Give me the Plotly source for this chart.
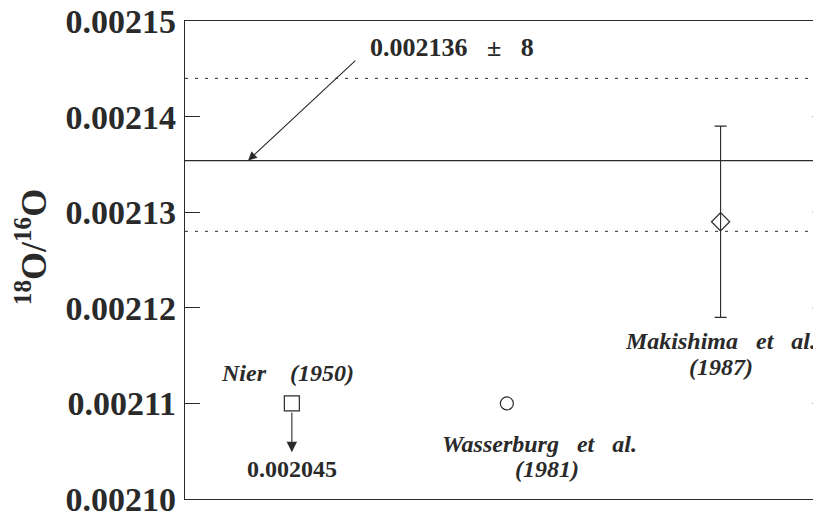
import plotly.graph_objects as go

# ---- data ----
studies = ["Nier (1950)", "Wasserburg et al. (1981)", "Makishima et al. (1987)"]
study_x = [1.66, 5.0, 8.32]
ratios = [0.00211, 0.00211, 0.002129]
ratio_err = [None, None, 0.00001]
symbols = ["square-open", "circle-open", "diamond-open"]
marker_sizes = [15, 13, 14]

mean_value = 0.0021354
band_upper = 0.002144
band_lower = 0.002128
mean_label = "0.002136\u00a0\u00a0\u00a0±\u00a0\u00a0\u00a08"
nier_off_scale = "0.002045"

y_ticks = [0.00210, 0.00211, 0.00212, 0.00213, 0.00214, 0.00215]
y_ticklabels = ["0.00210", "0.00211", "0.00212", "0.00213", "0.00214", "0.00215"]
x_range = [0, 9.88]
y_range = [0.00210, 0.00215]

INK = "#2a2a2a"
SERIF = "Liberation Serif, Times New Roman, serif"
SP = "\u00a0\u00a0\u00a0"

fig = go.Figure()

for i, name in enumerate(studies):
    err = ratio_err[i]
    fig.add_trace(go.Scatter(
        x=[study_x[i]], y=[ratios[i]], mode="markers", name=name,
        marker=dict(symbol=symbols[i], size=marker_sizes[i], color=INK,
                    line=dict(width=1.2, color=INK)),
        error_y=dict(type="data", array=[err], visible=err is not None,
                     color=INK, thickness=1.1, width=6),
        showlegend=False, cliponaxis=False,
    ))

shapes = []
# mean line and uncertainty band limits
shapes.append(dict(type="line", xref="x", yref="y", x0=x_range[0], x1=x_range[1],
                   y0=mean_value, y1=mean_value, line=dict(color=INK, width=1.1)))
for yb in (band_upper, band_lower):
    shapes.append(dict(type="line", xref="x", yref="y", x0=x_range[0], x1=x_range[1],
                       y0=yb, y1=yb, line=dict(color=INK, width=1, dash="3px,7px")))
# right-hand inward ticks (the right spine itself is outside the picture)
for t in y_ticks[1:-1]:
    shapes.append(dict(type="line", xref="x", yref="y", x0=9.75, x1=x_range[1],
                       y0=t, y1=t, line=dict(color=INK, width=1.1)))

annotations = []
# mean value label and arrow
annotations.append(dict(x=2.84, y=0.0021472, xref="x", yref="y", text=mean_label,
                        showarrow=False, xanchor="left", yanchor="middle",
                        font=dict(family=SERIF, size=26, color=INK, weight="bold")))
annotations.append(dict(x=0.98, y=mean_value, xref="x", yref="y",
                        ax=2.67, ay=0.002146, axref="x", ayref="y",
                        text="", showarrow=True, arrowhead=2, arrowsize=1.6,
                        arrowwidth=1.1, arrowcolor=INK))
# Nier off-scale arrow
annotations.append(dict(x=study_x[0], y=0.0021049, xref="x", yref="y",
                        ax=study_x[0], ay=ratios[0] - 0.0000008, axref="x", ayref="y",
                        text="", showarrow=True, arrowhead=2, arrowsize=1.9,
                        arrowwidth=1.1, arrowcolor=INK))
annotations.append(dict(x=study_x[0], y=0.0021031, xref="x", yref="y", text=nier_off_scale,
                        showarrow=False, xanchor="center", yanchor="middle",
                        font=dict(family=SERIF, size=24, color=INK, weight="bold")))

lab_font = dict(family=SERIF, size=24, color=INK, weight="bold", style="italic")
annotations.append(dict(x=1.59, y=0.0021132, xref="x", yref="y",
                        text="Nier" + SP + "\u00a0(1950)", showarrow=False,
                        xanchor="center", yanchor="middle", font=lab_font))
annotations.append(dict(x=5.51, y=0.0021058, xref="x", yref="y",
                        text="Wasserburg" + SP + "et" + SP + "al.", showarrow=False,
                        xanchor="center", yanchor="middle", font=lab_font))
annotations.append(dict(x=5.62, y=0.0021031, xref="x", yref="y",
                        text="(1981)", showarrow=False,
                        xanchor="center", yanchor="middle", font=lab_font))
annotations.append(dict(x=study_x[2], y=0.0021165, xref="x", yref="y",
                        text="Makishima" + SP + "et" + SP + "al.", showarrow=False,
                        xanchor="center", yanchor="middle", font=lab_font))
annotations.append(dict(x=study_x[2], y=0.0021138, xref="x", yref="y",
                        text="(1987)", showarrow=False,
                        xanchor="center", yanchor="middle", font=lab_font))
# y-axis title
annotations.append(dict(x=-0.242, y=0.527, xref="paper", yref="paper",
                        text="<sup>18</sup>O/<sup>16</sup>O", textangle=-90, showarrow=False,
                        xanchor="center", yanchor="middle",
                        font=dict(family=SERIF, size=36, color=INK, weight="bold")))

fig.update_layout(
    width=813, height=504,
    margin=dict(l=177, r=0, t=13, b=13, autoexpand=False),
    paper_bgcolor="white", plot_bgcolor="white",
    shapes=shapes, annotations=annotations,
    xaxis=dict(range=x_range, showgrid=False, zeroline=False, showticklabels=False,
               ticks="", showline=True, mirror=True, linecolor=INK, linewidth=1.2,
               automargin=False),
    yaxis=dict(range=y_range, showgrid=False, zeroline=False,
               tickvals=y_ticks, ticktext=y_ticklabels,
               ticks="inside", ticklen=15, tickwidth=1.1, tickcolor=INK,
               showline=True, mirror=False, linecolor=INK, linewidth=1.2,
               tickfont=dict(family=SERIF, size=34, color=INK, weight="bold"),
               ticklabelstandoff=1, ticklabeloverflow="allow", automargin=False),
)

fig.write_html("out.html")
